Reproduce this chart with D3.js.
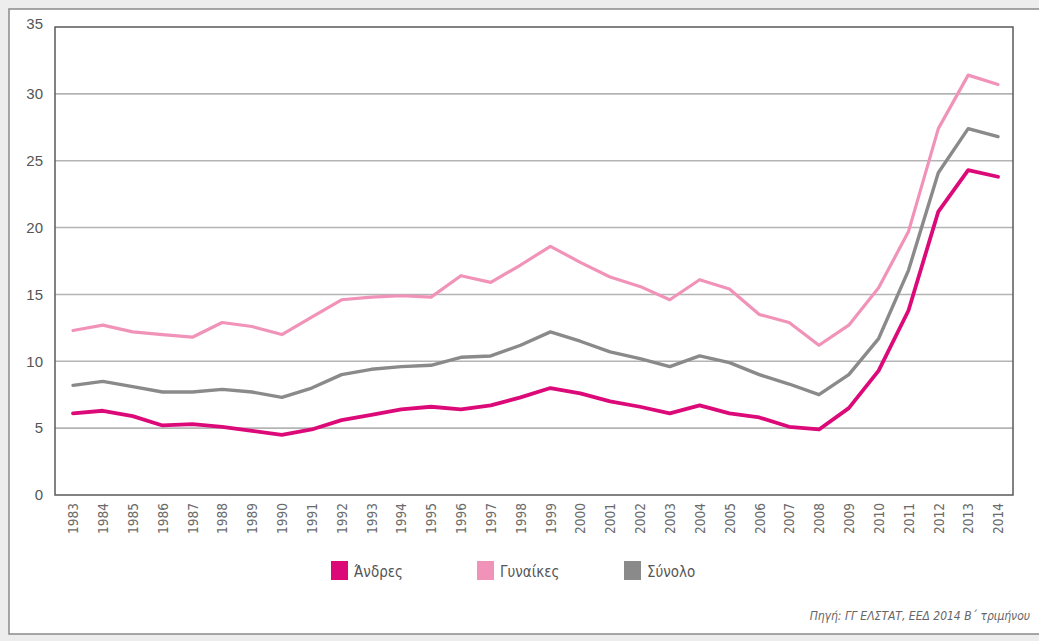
<!DOCTYPE html>
<html><head><meta charset="utf-8">
<script src="https://cdn.jsdelivr.net/npm/d3@7"></script>
<style>
html,body{margin:0;padding:0;background:#ededed;}
svg{display:block;}
</style></head>
<body>
<svg id="chart" width="1039" height="641"></svg>
<script>
const years = [1983,1984,1985,1986,1987,1988,1989,1990,1991,1992,1993,1994,1995,1996,1997,1998,1999,2000,2001,2002,2003,2004,2005,2006,2007,2008,2009,2010,2011,2012,2013,2014];
const andres   = [6.1,6.3,5.9,5.2,5.3,5.1,4.8,4.5,4.9,5.6,6.0,6.4,6.6,6.4,6.7,7.3,8.0,7.6,7.0,6.6,6.1,6.7,6.1,5.8,5.1,4.9,6.5,9.3,13.8,21.2,24.3,23.8];
const gynaikes = [12.3,12.7,12.2,12.0,11.8,12.9,12.6,12.0,13.3,14.6,14.8,14.9,14.8,16.4,15.9,17.2,18.6,17.4,16.3,15.6,14.6,16.1,15.4,13.5,12.9,11.2,12.7,15.5,19.7,27.4,31.4,30.7];
const synolo   = [8.2,8.5,8.1,7.7,7.7,7.9,7.7,7.3,8.0,9.0,9.4,9.6,9.7,10.3,10.4,11.2,12.2,11.5,10.7,10.2,9.6,10.4,9.9,9.0,8.3,7.5,9.0,11.7,16.8,24.1,27.4,26.8];
const yTicks = [0,5,10,15,20,25,30,35];
const seriesNames = ["Άνδρες","Γυναίκες","Σύνολο"];
const seriesColors = ["#dc0a78","#f193b8","#8a8a8a"];
const sourceText = "Πηγή: ΓΓ ΕΛΣΤΑΤ, ΕΕΔ 2014 Β΄ τριμήνου";

const svg = d3.select("#chart");
const plot = {left:55, top:27, right:1013, bottom:495};

// outer frame
svg.append("rect").attr("x",9).attr("y",9).attr("width",1040).attr("height",625)
  .attr("fill","#fff").attr("stroke","#8a8a8a").attr("stroke-width",1.5);

const x = d3.scalePoint().domain(years).range([73, 998]);
const y = d3.scaleLinear().domain([0,35]).range([plot.bottom, plot.top]);

// gridlines
svg.append("g").selectAll("line").data(yTicks.filter(d=>d>0 && d<35)).join("line")
  .attr("x1",plot.left).attr("x2",plot.right)
  .attr("y1",d=>y(d)).attr("y2",d=>y(d))
  .attr("stroke","#b4b4b4").attr("stroke-width",1.6);

// plot border
svg.append("rect").attr("x",plot.left).attr("y",plot.top)
  .attr("width",plot.right-plot.left).attr("height",plot.bottom-plot.top)
  .attr("fill","none").attr("stroke","#5a5a5a").attr("stroke-width",1.5);

// y axis
const yAxis = d3.axisLeft(y).tickValues(yTicks).tickSize(0).tickPadding(12);
const gy = svg.append("g").attr("transform",`translate(${plot.left},0)`).call(yAxis);
gy.select(".domain").remove();
gy.selectAll("text").attr("font-family","'Liberation Sans', Arial, sans-serif")
  .attr("font-size",15).attr("fill","#555");
gy.selectAll(".tick").filter(d=>d===35).select("text").attr("dy","0.1em");

// x axis
const xAxis = d3.axisBottom(x).tickSize(0).tickPadding(0).tickFormat(d=>String(d));
const gx = svg.append("g").attr("transform",`translate(0,${plot.bottom})`).call(xAxis);
gx.select(".domain").remove();
gx.selectAll("text")
  .attr("font-family","'DejaVu Sans Condensed','DejaVu Sans', sans-serif")
  .attr("font-size",13.5).attr("fill","#6a6a6a")
  .attr("text-anchor","end")
  .attr("transform","rotate(-90)")
  .attr("x",-8).attr("y",0).attr("dy","0.35em");

// lines
const line = d3.line().x((d,i)=>x(years[i])).y(d=>y(d));
const seriesData = [gynaikes, synolo, andres];
const seriesCol = [seriesColors[1], seriesColors[2], seriesColors[0]];
const seriesW = [3.2, 3.4, 3.8];
svg.append("g").selectAll("path").data(seriesData).join("path")
  .attr("d",d=>line(d)).attr("fill","none")
  .attr("stroke",(d,i)=>seriesCol[i]).attr("stroke-width",(d,i)=>seriesW[i])
  .attr("stroke-linejoin","round").attr("stroke-linecap","round");

// legend
const legX = [331, 477, 624];
const lg = svg.append("g").selectAll("g").data(seriesNames).join("g")
  .attr("transform",(d,i)=>`translate(${legX[i]},561)`);
lg.append("rect").attr("width",17).attr("height",19).attr("fill",(d,i)=>seriesColors[i]);
lg.append("text").attr("x",23).attr("y",11).attr("dy","0.35em")
  .attr("font-family","'DejaVu Sans Condensed','DejaVu Sans', sans-serif")
  .attr("font-size",15).attr("fill","#555").text(d=>d);

// source
svg.append("text").attr("x",1030).attr("y",620).attr("text-anchor","end")
  .attr("font-family","'DejaVu Sans Condensed','DejaVu Sans', sans-serif")
  .attr("font-style","italic").attr("font-size",12).attr("fill","#666")
  .text(sourceText);
</script>
</body></html>
